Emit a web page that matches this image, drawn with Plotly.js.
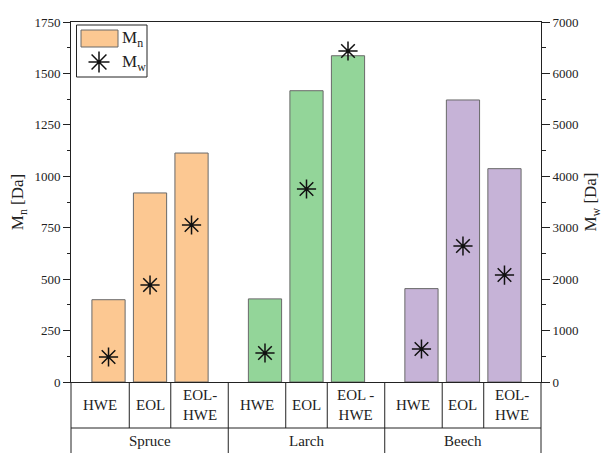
<!DOCTYPE html>
<html>
<head>
<meta charset="utf-8">
<script src="https://cdn.plot.ly/plotly-3.0.1.min.js"></script>
<style>html,body{margin:0;padding:0;background:#fff;}#chart{width:603px;height:453px;}</style>
</head>
<body>
<div id="chart"></div>
<script>
// ---- data ----
const groups = ['Spruce', 'Larch', 'Beech'];
const treatments = [
  ['HWE', 'EOL', 'EOL-<br>HWE'],
  ['HWE', 'EOL', 'EOL -<br>HWE'],
  ['HWE', 'EOL', 'EOL-<br>HWE']
];
const mnValues = [
  [400, 919, 1113],
  [404, 1416, 1586],
  [454, 1371, 1037]
];
const mwValues = [
  [486, 1886, 3053],
  [564, 3753, 6436],
  [642, 2644, 2080]
];
const groupColors = ['rgb(252,200,146)', 'rgb(147,213,153)', 'rgb(198,179,215)'];

// ---- layout helpers ----
const GROUP_STEP = 3.77;
const X_MIN = -0.904, X_MAX = 10.42;
const W = 603, H = 453, ML = 71, MR = 62, MT = 22, MB = 71;
const PW = W - ML - MR, PH = H - MT - MB;
const px2x = p => (p - ML) / PW;
const py2y = p => (H - MB - p) / PH;
const d2p = d => (d - X_MIN) / (X_MAX - X_MIN);

const xs = [], mn = [], mw = [], cols = [];
groups.forEach((g, gi) => {
  treatments[gi].forEach((t, ti) => {
    xs.push(gi * GROUP_STEP + ti);
    mn.push(mnValues[gi][ti]);
    mw.push(mwValues[gi][ti]);
    cols.push(groupColors[gi]);
  });
});

const traces = [
  {
    type: 'bar', x: xs, y: mn, width: 0.8,
    marker: {color: cols, line: {color: 'rgb(105,105,105)', width: 1}},
    showlegend: false, hoverinfo: 'skip'
  },
  {
    type: 'scatter', mode: 'markers', x: xs, y: mw, yaxis: 'y2',
    marker: {symbol: 'asterisk-open', size: 16, color: '#111', line: {color: '#111', width: 1.5}},
    showlegend: false, hoverinfo: 'skip'
  }
];

const lineStyle = {color: '#222', width: 1};
const shapes = [];
const annotations = [];
const row1 = py2y(428);
const bottom = -0.5;
const FONT = 'Liberation Serif, Times New Roman, serif';

// outer vertical lines through the table
shapes.push({type: 'line', xref: 'paper', yref: 'paper', x0: 0, x1: 0, y0: 0, y1: bottom, line: lineStyle});
shapes.push({type: 'line', xref: 'paper', yref: 'paper', x0: 1, x1: 1, y0: 0, y1: bottom, line: lineStyle});
shapes.push({type: 'line', xref: 'paper', yref: 'paper', x0: 0, x1: 1, y0: row1, y1: row1, line: lineStyle});

// cell boundaries
const bounds = [X_MIN];
for (let i = 0; i < xs.length - 1; i++) bounds.push((xs[i] + xs[i + 1]) / 2);
bounds.push(X_MAX);
let k = 0;
groups.forEach((g, gi) => {
  const start = k;
  treatments[gi].forEach((t, ti) => {
    const l = bounds[k], r = bounds[k + 1];
    annotations.push({
      xref: 'paper', yref: 'paper', x: d2p((l + r) / 2), y: py2y(405),
      xanchor: 'center', yanchor: 'middle', text: t, showarrow: false,
      font: {family: FONT, size: 15, color: '#222'}
    });
    if (k + 1 < xs.length) {
      const isGroupEdge = ti === treatments[gi].length - 1;
      shapes.push({type: 'line', xref: 'paper', yref: 'paper', x0: d2p(r), x1: d2p(r),
        y0: 0, y1: isGroupEdge ? bottom : row1, line: lineStyle});
    }
    k++;
  });
  annotations.push({
    xref: 'paper', yref: 'paper', x: d2p((bounds[start] + bounds[k]) / 2), y: py2y(441),
    xanchor: 'center', yanchor: 'middle', text: g, showarrow: false,
    font: {family: FONT, size: 15, color: '#222'}
  });
});

// custom legend
shapes.push({type: 'rect', xref: 'paper', yref: 'paper', x0: px2x(76.5), x1: px2x(147), y0: py2y(25), y1: py2y(77),
  line: {color: '#222', width: 1}, fillcolor: 'white'});
shapes.push({type: 'rect', xref: 'paper', yref: 'paper', x0: px2x(81), x1: px2x(118), y0: py2y(30), y1: py2y(47),
  line: {color: 'rgb(105,105,105)', width: 1}, fillcolor: groupColors[0]});
const cx = 99, cy = 62, r = 10.5, rd = r * 0.7071;
const seg = (x1, y1, x2, y2) => `M${px2x(x1)},${py2y(y1)}L${px2x(x2)},${py2y(y2)}`;
shapes.push({type: 'path', xref: 'paper', yref: 'paper', line: {color: '#111', width: 1.5},
  path: seg(cx - r, cy, cx + r, cy) + seg(cx, cy - r, cx, cy + r) +
        seg(cx - rd, cy - rd, cx + rd, cy + rd) + seg(cx - rd, cy + rd, cx + rd, cy - rd)});
annotations.push({xref: 'paper', yref: 'paper', x: px2x(120), y: py2y(39), xanchor: 'left', yanchor: 'middle',
  text: 'M<sub>n</sub>', showarrow: false, font: {family: FONT, size: 17, color: '#222'}});
annotations.push({xref: 'paper', yref: 'paper', x: px2x(120), y: py2y(63), xanchor: 'left', yanchor: 'middle',
  text: 'M<sub>w</sub>', showarrow: false, font: {family: FONT, size: 17, color: '#222'}});

const layout = {
  width: W, height: H,
  margin: {l: ML, r: MR, t: MT, b: MB, pad: 0},
  paper_bgcolor: 'white', plot_bgcolor: 'white',
  font: {family: FONT, color: '#222'},
  showlegend: false,
  bargap: 0,
  xaxis: {range: [X_MIN, X_MAX], showticklabels: false, ticks: '', showgrid: false, zeroline: false,
    showline: true, mirror: true, linecolor: '#222', linewidth: 1, fixedrange: true},
  yaxis: {range: [0, 1750], tick0: 0, dtick: 250, ticks: 'outside', ticklen: 7, tickcolor: '#222', tickwidth: 1,
    minor: {dtick: 125, ticks: 'outside', ticklen: 3, tickcolor: '#222'},
    showline: true, linecolor: '#222', linewidth: 1, showgrid: false, zeroline: false,
    tickfont: {family: FONT, size: 13, color: '#222'},
    title: {text: 'M<sub>n</sub> [Da]', font: {family: FONT, size: 17, color: '#222'}, standoff: 6}},
  yaxis2: {overlaying: 'y', side: 'right', range: [0, 7000], tick0: 0, dtick: 1000, ticks: 'outside', ticklen: 8,
    tickcolor: '#222', tickwidth: 1,
    minor: {dtick: 500, ticks: 'outside', ticklen: 4, tickcolor: '#222'},
    showline: true, linecolor: '#222', linewidth: 1, showgrid: false, zeroline: false,
    tickfont: {family: FONT, size: 13, color: '#222'},
    title: {text: 'M<sub>w</sub> [Da]', font: {family: FONT, size: 17, color: '#222'}, standoff: 6}},
  shapes: shapes,
  annotations: annotations
};

Plotly.newPlot('chart', traces, layout, {staticPlot: true, displayModeBar: false});
</script>
</body>
</html>
